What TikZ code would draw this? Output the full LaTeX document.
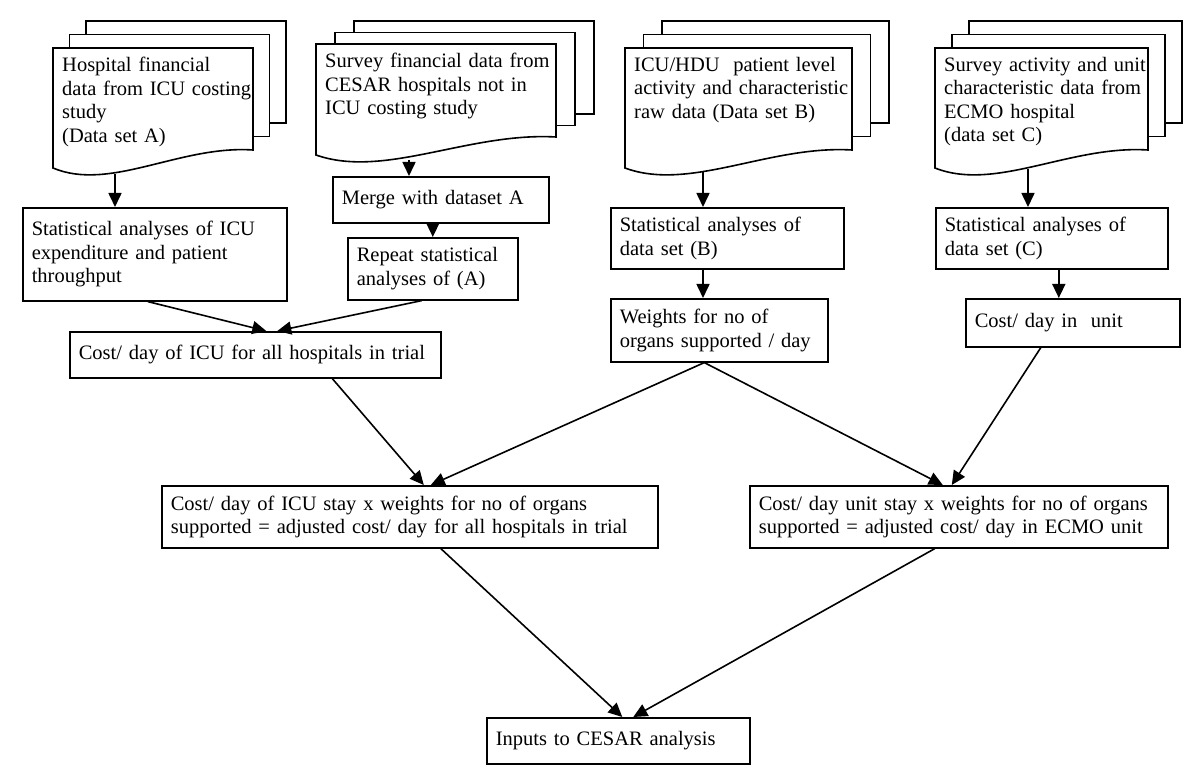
\documentclass[tikz,border=0pt]{standalone}
\usepackage{fontspec}
\setmainfont{Liberation Serif}
\usepackage{tikz}
\usetikzlibrary{arrows.meta}

\tikzset{
  box/.style={draw, line width=1.6pt, anchor=north west, align=left, inner xsep=9pt, inner ysep=2pt},
  doctext/.style={anchor=north west, align=left, inner xsep=9pt, inner ysep=9pt},
  sheet/.style={draw, fill=white, line width=1.6pt},
  flow/.style={-{Triangle[length=14pt,width=13pt]}, line width=1.6pt}
}

% stack of three sheets: left, top, width, height, dx, dy
\newcommand{\datastack}[6]{%
  \draw[sheet] ({#1+2*#5},{#2+2*#6}) rectangle ++(#3,#4);
  \draw[sheet] ({#1+#5},{#2+#6}) rectangle ++(#3,#4);
  \draw[sheet] (#1,#2) -- ++(#3,0) -- ++(0,#4)
    .. controls ({#1+0.635*#3},{#2+#4-5}) and ({#1+0.285*#3},{#2+#4+42}) .. ({#1},{#2+#4+18}) -- cycle;
}

\begin{document}
\begin{tikzpicture}[x=1pt, y=-1pt, font=\fontsize{20.5}{23.5}\selectfont]
            \useasboundingbox (0,0) rectangle (1200,775);

            % Data sets
            \datastack{53}{48}{200}{102}{16.5}{-13.5}
            \node[doctext, text width=200pt] (docA) at (53,48) {Hospital financial\\data from ICU costing\\study\\(Data set A)};
            \datastack{316}{44}{240}{93}{19}{-11.5}
            \node[doctext, text width=240pt] (docS) at (316,44) {Survey financial data from\\CESAR hospitals not in\\ICU costing study};
            \datastack{625}{48}{227}{102}{18.5}{-13.5}
            \node[doctext, text width=227pt] (docB) at (625,48) {ICU/HDU\ \ patient level\\activity and characteristic\\raw data (Data set B)};
            \datastack{935}{48}{213}{102}{17}{-13.5}
            \node[doctext, text width=213pt] (docC) at (935,48) {Survey activity and unit\\characteristic data from\\ECMO hospital\\(data set C)};

            \coordinate (docA-out) at (115,174);
            \coordinate (docS-out) at (409,160);
            \coordinate (docB-out) at (703,172);
            \coordinate (docC-out) at (1028,169);

            % Analyses
            \node[box, text width=246pt, minimum height=93pt] (statA) at (22,207) {Statistical analyses of ICU\\expenditure and patient\\throughput};
            \node[box, text width=198pt, minimum height=46pt] (merge) at (332,176) {Merge with dataset A};
            \node[box, text width=152pt, minimum height=62pt] (repeat) at (347,237) {Repeat statistical\\analyses of (A)};
            \node[box, text width=215pt, minimum height=61pt] (statB) at (610,207) {Statistical analyses of\\data set (B)};
            \node[box, text width=214pt, minimum height=61pt] (statC) at (935,207) {Statistical analyses of\\data set (C)};

            % Costs and weights
            \node[box, text width=353pt, minimum height=46pt] (costicu) at (69,331) {Cost/ day of ICU for all hospitals in trial};
            \node[box, text width=199pt, minimum height=63pt] (weights) at (610,298) {Weights for no of\\organs supported / day};
            \node[box, text width=196pt, minimum height=48pt] (costunit) at (965,298) {Cost/ day in\ \ unit};

            % Adjusted costs
            \node[box, text width=478pt, minimum height=62pt] (icustay) at (161,485) {Cost/ day of ICU stay x weights for no of organs\\supported = adjusted cost/ day for all hospitals in trial};
            \node[box, text width=400pt, minimum height=62pt] (ecmo) at (749,485) {Cost/ day unit stay x weights for no of organs\\supported = adjusted cost/ day in ECMO unit};
            \node[box, text width=245pt, minimum height=46pt] (inputs) at (486,717) {Inputs to CESAR analysis};

            % Arrows
            \draw[flow] (docA-out) -- (docA-out |- statA.north);
            \draw[flow] (docS-out) -- (docS-out |- merge.north);
            \draw[flow] (repeat.north |- merge.south) -- (repeat.north);
            \draw[flow] (docB-out) -- (docB-out |- statB.north);
            \draw[flow] (docB-out |- statB.south) -- (docB-out |- weights.north);
            \draw[flow] (docC-out) -- (docC-out |- statC.north);
            \draw[flow] ([xshift=7pt]statC.south) -- ([xshift=7pt]statC.south |- costunit.north);
            \draw[flow] ([xshift=-7pt]statA.south) -- ([xshift=11pt]costicu.north);
            \draw[flow] ([xshift=-11pt]repeat.south) -- ([xshift=22pt]costicu.north);
            \draw[flow] ([xshift=77pt]costicu.south) -- ([xshift=14pt]icustay.north);
            \draw[flow] ([xshift=-15pt]weights.south) -- ([xshift=21pt]icustay.north);
            \draw[flow] ([xshift=-15pt]weights.south) -- ([xshift=-16pt]ecmo.north);
            \draw[flow] ([xshift=-32pt]costunit.south) -- ([xshift=-7pt]ecmo.north);
            \draw[flow] ([xshift=31pt]icustay.south) -- ([xshift=4pt]inputs.north);
            \draw[flow] ([xshift=-24pt]ecmo.south) -- ([xshift=15pt]inputs.north);
        \end{tikzpicture}
\end{document}
